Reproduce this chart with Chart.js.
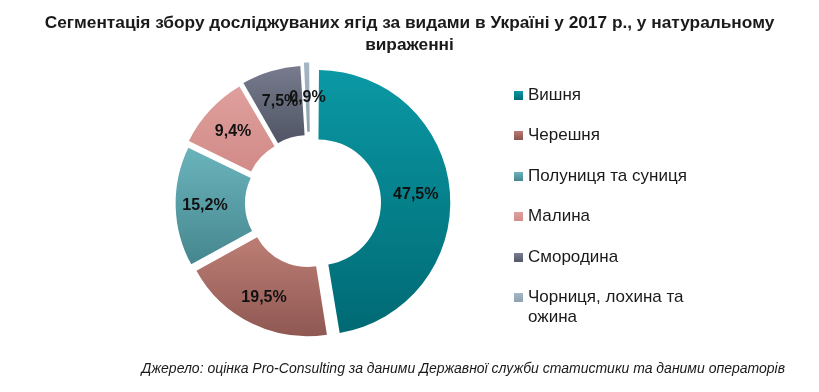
<!DOCTYPE html>
<html>
<head>
<meta charset="utf-8">
<script src="https://cdn.jsdelivr.net/npm/chart.js@4.4.0/dist/chart.umd.min.js"></script>
<style>
  body { margin: 0; background: #fff; }
  #wrap { position: relative; width: 819px; height: 392px; }
  #chart { position: absolute; left: 0; top: 0; }
  #title {
    position: absolute; left: 0; top: 11px; width: 819px; text-align: center;
    font: bold 17.3px "Liberation Sans", Arial, sans-serif;
    line-height: 22px; color: #1a1a1a;
  }
  #legend {
    position: absolute; left: 514px; top: 85px; width: 200px;
    font: 17px "Liberation Sans", Arial, sans-serif; color: #1a1a1a;
  }
  .item { position: relative; height: 40.4px; padding-left: 14px; line-height: 20px; width: 170px; }
  .box { position: absolute; left: 0; top: 6px; width: 9px; height: 9px; }
  #source {
    position: absolute; right: 34px; top: 360px;
    font: italic 14px "Liberation Sans", Arial, sans-serif;
    color: #1a1a1a;
  }
</style>
</head>
<body>
<div id="wrap">
  <canvas id="chart" width="819" height="392"></canvas>
  <div id="title">Сегментація збору досліджуваних ягід за видами в Україні у 2017 р., у натуральному<br>вираженні</div>
  <div id="legend"></div>
  <div id="source">Джерело: оцінка Pro-Consulting за даними Державної служби статистики та даними операторів</div>
</div>
<script>
var categories = ["Вишня", "Черешня", "Полуниця та суниця", "Малина", "Смородина", "Чорниця, лохина та ожина"];
var shares = [47.5, 19.5, 15.2, 9.4, 7.5, 0.9];
var labels = ["47,5%", "19,5%", "15,2%", "9,4%", "7,5%", "0,9%"];
// light top / dark bottom for each slice
var topColors = ["#0a98a4", "#b97b72", "#6bb4bc", "#e0a19e", "#7b7f91", "#a7b8c7"];
var bottomColors = ["#006a74", "#8a544f", "#45868e", "#d28c89", "#535869", "#8da1b2"];

// legend
var legend = document.getElementById("legend");
categories.forEach(function (name, i) {
  var row = document.createElement("div");
  row.className = "item";
  var box = document.createElement("span");
  box.className = "box";
  box.style.background = "linear-gradient(" + topColors[i] + "," + bottomColors[i] + ")";
  row.appendChild(box);
  row.appendChild(document.createTextNode(name));
  legend.appendChild(row);
});

// chart.js moves an arc by offset/4 and grows it by offset/8 when drawing
function shift(arc) { return (arc.options.offset || 0) / 4; }
function grow(arc) { return (arc.options.offset || 0) / 8; }

// gradient per arc, from its own top to bottom
var gradientPlugin = {
  id: "arcGradient",
  beforeDatasetsDraw: function (chart) {
    var ctx = chart.ctx;
    chart.getDatasetMeta(0).data.forEach(function (arc, i) {
      var mid = (arc.startAngle + arc.endAngle) / 2;
      var cy = arc.y + Math.sin(mid) * shift(arc);
      var minY = Infinity, maxY = -Infinity;
      for (var k = 0; k <= 40; k++) {
        var a = arc.startAngle + (arc.endAngle - arc.startAngle) * k / 40;
        [arc.innerRadius + grow(arc), arc.outerRadius + grow(arc)].forEach(function (r) {
          var y = cy + Math.sin(a) * r;
          if (y < minY) minY = y;
          if (y > maxY) maxY = y;
        });
      }
      var g = ctx.createLinearGradient(0, minY, 0, maxY);
      g.addColorStop(0, topColors[i]);
      g.addColorStop(1, bottomColors[i]);
      arc.options.backgroundColor = g;
    });
  }
};

var labelPlugin = {
  id: "sliceLabels",
  afterDatasetsDraw: function (chart) {
    var ctx = chart.ctx;
    ctx.save();
    ctx.font = "bold 16px 'Liberation Sans', Arial, sans-serif";
    ctx.fillStyle = "#111";
    ctx.textAlign = "center";
    ctx.textBaseline = "middle";
    chart.getDatasetMeta(0).data.forEach(function (arc, i) {
      var mid = (arc.startAngle + arc.endAngle) / 2;
      var r = (arc.innerRadius + arc.outerRadius) / 2 + grow(arc) + shift(arc) + 3;
      ctx.fillText(labels[i], arc.x + Math.cos(mid) * r, arc.y + Math.sin(mid) * r);
    });
    ctx.restore();
  }
};

new Chart(document.getElementById("chart"), {
  type: "doughnut",
  data: {
    labels: categories,
    datasets: [{
      data: shares,
      backgroundColor: topColors,
      borderWidth: 0,
      offset: 30,
      hoverOffset: 0
    }]
  },
  options: {
    responsive: false,
    animation: false,
    cutout: "45%",
    layout: { padding: { left: 0, right: 198, top: 62, bottom: 48 } },
    plugins: {
      legend: { display: false },
      tooltip: { enabled: false }
    }
  },
  plugins: [gradientPlugin, labelPlugin]
});
</script>
</body>
</html>
